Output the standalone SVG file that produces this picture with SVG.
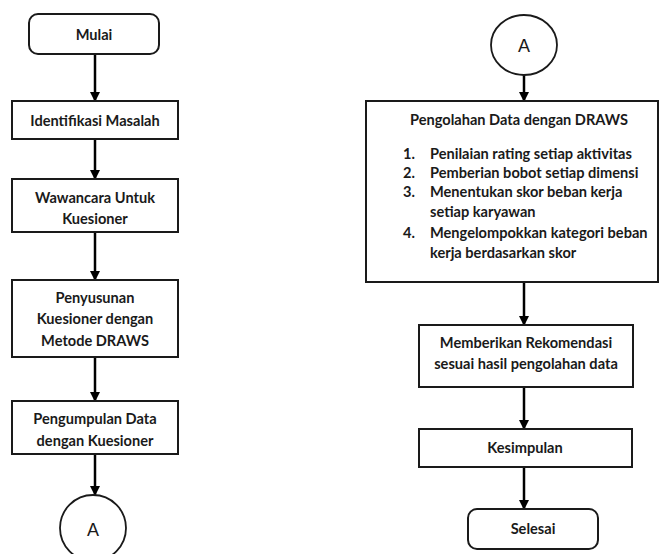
<svg xmlns="http://www.w3.org/2000/svg" width="663" height="554" viewBox="0 0 663 554">
<defs>
<marker id="ah" markerWidth="10" markerHeight="10" refX="9" refY="5" orient="auto" markerUnits="userSpaceOnUse">
<path d="M0,0 L10,5 L0,10 Z" fill="#000"/>
</marker>
<style>
.box{fill:#fff;stroke:#1a1a1a;stroke-width:2}
.t{font-family:Lato,"Liberation Sans",sans-serif;font-weight:bold;font-size:14.6px;fill:#1a1a1a;text-anchor:middle;dominant-baseline:central}
.l{text-anchor:start}
.c{font-family:"Liberation Sans",sans-serif;font-size:18px;fill:#1a1a1a;text-anchor:middle;dominant-baseline:central}
.e{stroke:#000;stroke-width:2.5;fill:none;marker-end:url(#ah)}
</style>
</defs>
<rect width="663" height="554" fill="#fff"/>
<g id="connectors">
<line class="e" x1="95" y1="54" x2="95" y2="101"/>
<line class="e" x1="95" y1="139" x2="95" y2="179"/>
<line class="e" x1="95" y1="232" x2="95" y2="280"/>
<line class="e" x1="95" y1="357" x2="95" y2="401"/>
<line class="e" x1="95" y1="454" x2="95" y2="495"/>
<line class="e" x1="524" y1="75" x2="524" y2="101"/>
<line class="e" x1="524" y1="282" x2="524" y2="325"/>
<line class="e" x1="524" y1="387" x2="524" y2="429"/>
<line class="e" x1="524" y1="467" x2="524" y2="509"/>
</g>
<g id="mulai">
<rect class="box" x="29" y="14" width="130" height="40" rx="9"/>
<text class="t" x="94" y="34">Mulai</text>
</g>
<g id="identifikasi">
<rect class="box" x="12" y="101" width="166" height="38"/>
<text class="t" x="95" y="120">Identifikasi Masalah</text>
</g>
<g id="wawancara">
<rect class="box" x="12" y="179" width="166" height="53"/>
<text class="t" x="95" y="197">Wawancara Untuk</text>
<text class="t" x="95" y="218">Kuesioner</text>
</g>
<g id="penyusunan">
<rect class="box" x="12" y="280" width="166" height="77"/>
<text class="t" x="95" y="297">Penyusunan</text>
<text class="t" x="95" y="318">Kuesioner dengan</text>
<text class="t" x="95" y="340">Metode DRAWS</text>
</g>
<g id="pengumpulan">
<rect class="box" x="12" y="401" width="166" height="53"/>
<text class="t" x="95" y="418">Pengumpulan Data</text>
<text class="t" x="95" y="440">dengan Kuesioner</text>
</g>
<g id="connector-a-bottom">
<circle cx="93" cy="528" r="33" fill="#fff" stroke="#1a1a1a" stroke-width="1.8"/>
<text class="c" x="93" y="530">A</text>
</g>
<g id="connector-a-top">
<ellipse cx="524" cy="45" rx="33" ry="30" fill="#fff" stroke="#1a1a1a" stroke-width="1.8"/>
<text class="c" x="524" y="46">A</text>
</g>
<g id="pengolahan">
<rect class="box" x="366" y="101" width="292" height="181"/>
<text class="t" x="519" y="119">Pengolahan Data dengan DRAWS</text>
<text class="t l" x="403" y="153">1.</text>
<text class="t l" x="430" y="153">Penilaian rating setiap aktivitas</text>
<text class="t l" x="403" y="172">2.</text>
<text class="t l" x="430" y="172">Pemberian bobot setiap dimensi</text>
<text class="t l" x="403" y="191">3.</text>
<text class="t l" x="430" y="191">Menentukan skor beban kerja</text>
<text class="t l" x="430" y="211">setiap karyawan</text>
<text class="t l" x="403" y="232">4.</text>
<text class="t l" x="430" y="232">Mengelompokkan kategori beban</text>
<text class="t l" x="430" y="252">kerja berdasarkan skor</text>
</g>
<g id="rekomendasi">
<rect class="box" x="419" y="325" width="214" height="62"/>
<text class="t" x="526" y="342">Memberikan Rekomendasi</text>
<text class="t" x="526" y="363">sesuai hasil pengolahan data</text>
</g>
<g id="kesimpulan">
<rect class="box" x="419" y="429" width="213" height="38"/>
<text class="t" x="525" y="447">Kesimpulan</text>
</g>
<g id="selesai">
<rect class="box" x="468" y="509" width="130" height="40" rx="9"/>
<text class="t" x="533" y="528">Selesai</text>
</g>
</svg>
